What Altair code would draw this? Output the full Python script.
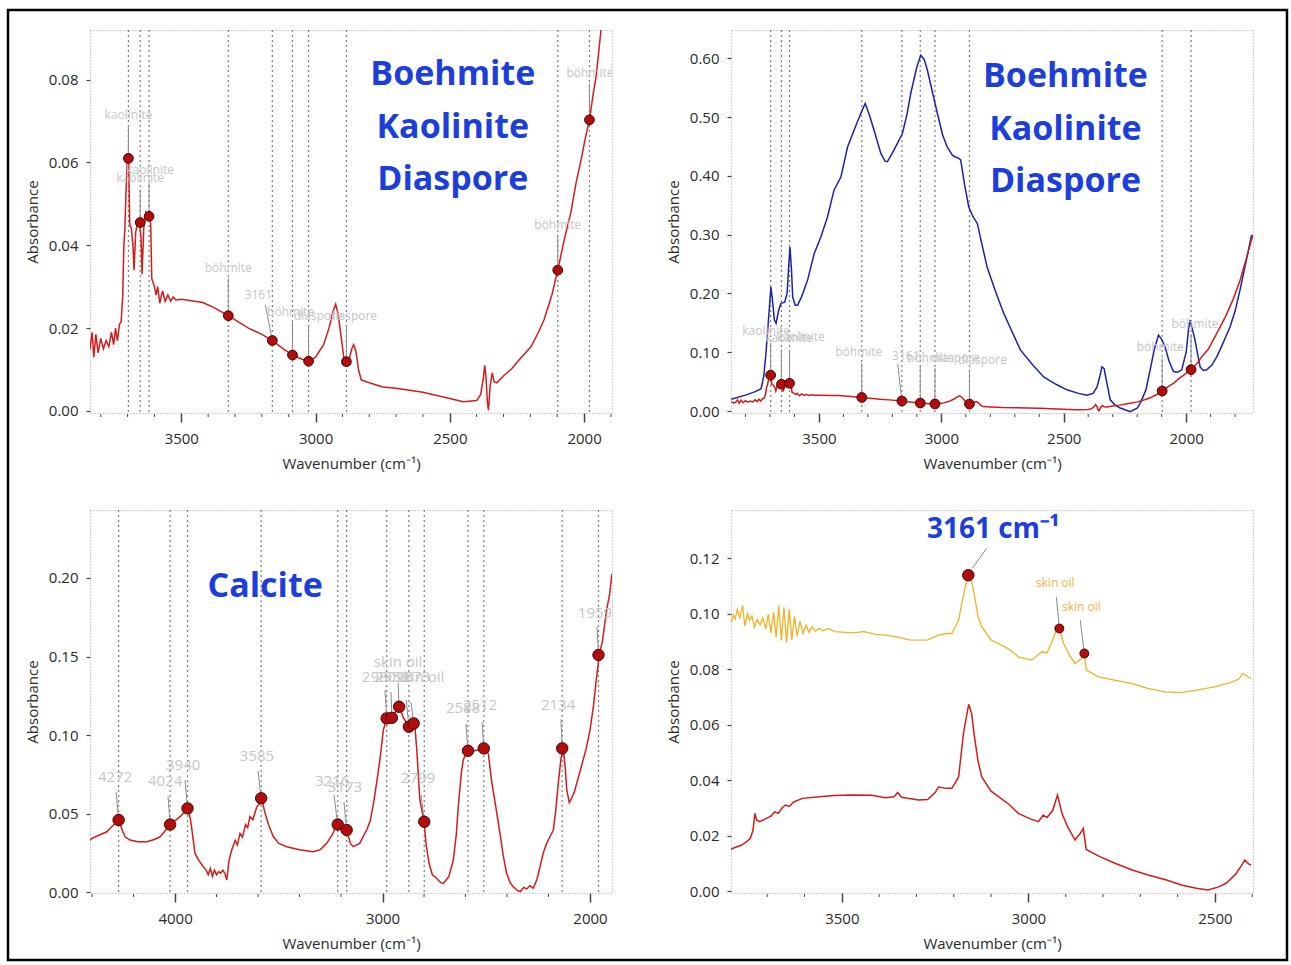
import altair as alt
import pandas as pd

FONT = "Open Sans"

# ---------------- spectra: (wavenumber cm-1, absorbance) ----------------
RED = [(3858, 0.0160), (3848, 0.0135), (3840, 0.0150), (3832, 0.0190), (3826, 0.0130), (3818, 0.0185),
       (3810, 0.0140), (3800, 0.0175), (3790, 0.0150), (3780, 0.0170), (3770, 0.0155), (3760, 0.0190),
       (3752, 0.0160), (3745, 0.0200), (3738, 0.0170), (3730, 0.0210), (3724, 0.0215), (3718, 0.0280),
       (3714, 0.0400), (3710, 0.0440), (3706, 0.0530), (3700, 0.0620), (3696, 0.0600), (3692, 0.0450),
       (3686, 0.0440), (3680, 0.0400), (3676, 0.0340), (3670, 0.0430), (3662, 0.0460), (3656, 0.0455),
       (3650, 0.0420), (3646, 0.0330), (3640, 0.0440), (3632, 0.0480), (3624, 0.0470), (3618, 0.0480),
       (3614, 0.0450), (3610, 0.0320), (3600, 0.0300), (3594, 0.0280), (3588, 0.0300), (3580, 0.0260),
       (3570, 0.0290), (3560, 0.0265), (3550, 0.0280), (3540, 0.0265), (3530, 0.0275), (3520, 0.0268),
       (3500, 0.0270), (3450, 0.0265), (3420, 0.0262), (3380, 0.0250), (3325, 0.0230), (3250, 0.0200),
       (3200, 0.0185), (3161, 0.0170), (3120, 0.0150), (3086, 0.0135), (3050, 0.0125), (3026, 0.0120),
       (3000, 0.0130), (2970, 0.0160), (2950, 0.0200), (2935, 0.0240), (2925, 0.0258), (2915, 0.0230),
       (2905, 0.0180), (2895, 0.0130), (2885, 0.0119), (2875, 0.0125), (2865, 0.0150), (2858, 0.0160),
       (2850, 0.0145), (2840, 0.0100), (2830, 0.0075), (2800, 0.0068), (2750, 0.0058), (2700, 0.0055),
       (2600, 0.0045), (2500, 0.0030), (2450, 0.0022), (2400, 0.0025), (2385, 0.0040), (2375, 0.0080),
       (2370, 0.0110), (2365, 0.0080), (2360, 0.0020), (2356, 0.0002), (2350, 0.0060), (2342, 0.0092),
       (2335, 0.0070), (2325, 0.0068), (2300, 0.0085), (2272, 0.0100), (2240, 0.0125), (2198, 0.0155),
       (2170, 0.0190), (2149, 0.0220), (2120, 0.0280), (2098, 0.0340), (2075, 0.0410), (2049, 0.0480),
       (2030, 0.0550), (2011, 0.0607), (1995, 0.0660), (1980, 0.0703), (1965, 0.0770), (1955, 0.0808),
       (1937, 0.0920), (1910, 0.1050), (1875, 0.1320), (1840, 0.1600), (1809, 0.1890), (1780, 0.2220),
       (1755, 0.2580), (1733, 0.2910), (1727, 0.3000)]

BLUE = [(3858, 0.020), (3800, 0.027), (3760, 0.033), (3736, 0.038), (3725, 0.060), (3716, 0.099),
        (3705, 0.160), (3696, 0.211), (3690, 0.190), (3682, 0.155), (3675, 0.149), (3665, 0.170),
        (3655, 0.183), (3640, 0.185), (3630, 0.200), (3622, 0.255), (3618, 0.279), (3612, 0.240),
        (3607, 0.194), (3597, 0.180), (3587, 0.180), (3570, 0.195), (3546, 0.223), (3519, 0.268),
        (3492, 0.296), (3465, 0.330), (3438, 0.376), (3410, 0.398), (3383, 0.449), (3356, 0.478),
        (3330, 0.505), (3311, 0.523), (3295, 0.505), (3275, 0.478), (3247, 0.438), (3230, 0.425),
        (3220, 0.424), (3193, 0.444), (3159, 0.472), (3140, 0.505), (3125, 0.540), (3100, 0.585),
        (3084, 0.605), (3070, 0.598), (3057, 0.580), (3035, 0.540), (3016, 0.506), (2995, 0.470),
        (2976, 0.449), (2955, 0.435), (2942, 0.432), (2930, 0.430), (2921, 0.427), (2905, 0.385),
        (2888, 0.347), (2870, 0.330), (2853, 0.319), (2835, 0.285), (2813, 0.245), (2780, 0.205),
        (2745, 0.166), (2710, 0.134), (2677, 0.104), (2630, 0.080), (2582, 0.058), (2530, 0.045),
        (2487, 0.036), (2440, 0.030), (2405, 0.027), (2380, 0.030), (2364, 0.041), (2352, 0.060),
        (2344, 0.075), (2335, 0.072), (2325, 0.050), (2310, 0.019), (2290, 0.010), (2269, 0.005),
        (2229, -0.001), (2200, 0.005), (2188, 0.013), (2165, 0.035), (2147, 0.070), (2130, 0.105),
        (2113, 0.129), (2100, 0.122), (2086, 0.109), (2070, 0.085), (2052, 0.067), (2035, 0.066),
        (2018, 0.070), (2000, 0.100), (1990, 0.140), (1984, 0.155), (1975, 0.140), (1964, 0.121),
        (1950, 0.090), (1943, 0.075), (1930, 0.069), (1916, 0.070), (1895, 0.078), (1875, 0.092),
        (1850, 0.115), (1821, 0.143), (1800, 0.170), (1780, 0.206), (1755, 0.255), (1733, 0.299)]

CAL = [(4410, 0.0330), (4401, 0.0342), (4370, 0.0360), (4329, 0.0384), (4297, 0.0427), (4270, 0.0459),
       (4255, 0.0395), (4240, 0.0350), (4217, 0.0331), (4180, 0.0320), (4136, 0.0320), (4100, 0.0335),
       (4072, 0.0352), (4045, 0.0395), (4024, 0.0438), (3995, 0.0460), (3976, 0.0480), (3955, 0.0510),
       (3940, 0.0533), (3925, 0.0459), (3904, 0.0246), (3885, 0.0200), (3864, 0.0161), (3850, 0.0140),
       (3840, 0.0110), (3830, 0.0150), (3820, 0.0100), (3810, 0.0140), (3800, 0.0110), (3790, 0.0130),
       (3780, 0.0120), (3770, 0.0140), (3760, 0.0120), (3751, 0.0076), (3740, 0.0200), (3727, 0.0268),
       (3710, 0.0330), (3700, 0.0300), (3687, 0.0374), (3675, 0.0350), (3660, 0.0430), (3650, 0.0410),
       (3639, 0.0480), (3625, 0.0460), (3606, 0.0543), (3595, 0.0560), (3582, 0.0597), (3570, 0.0522),
       (3550, 0.0430), (3526, 0.0352), (3500, 0.0310), (3462, 0.0289), (3400, 0.0270), (3334, 0.0257),
       (3300, 0.0270), (3269, 0.0310), (3240, 0.0370), (3221, 0.0438), (3205, 0.0420), (3190, 0.0420),
       (3173, 0.0395), (3155, 0.0310), (3141, 0.0289), (3110, 0.0310), (3075, 0.0400), (3060, 0.0450),
       (3044, 0.0560), (3028, 0.0700), (3012, 0.0850), (2996, 0.1032), (2980, 0.1106), (2965, 0.1110),
       (2950, 0.1110), (2935, 0.1150), (2918, 0.1180), (2900, 0.1110), (2885, 0.1080), (2876, 0.1053),
       (2860, 0.1060), (2845, 0.1074), (2835, 0.0905), (2820, 0.0586), (2800, 0.0448), (2790, 0.0300),
       (2775, 0.0180), (2760, 0.0110), (2747, 0.0097), (2720, 0.0060), (2707, 0.0055), (2680, 0.0100),
       (2659, 0.0204), (2645, 0.0360), (2635, 0.0543), (2620, 0.0760), (2611, 0.0841), (2595, 0.0890),
       (2582, 0.0900), (2560, 0.0900), (2535, 0.0905), (2509, 0.0915), (2490, 0.0880), (2475, 0.0713),
       (2455, 0.0550), (2434, 0.0374), (2418, 0.0230), (2402, 0.0119), (2385, 0.0060), (2370, 0.0034),
       (2350, 0.0010), (2337, 0.0002), (2320, 0.0030), (2305, 0.0020), (2290, 0.0040), (2273, 0.0025),
       (2256, 0.0080), (2241, 0.0161), (2225, 0.0250), (2209, 0.0310), (2190, 0.0360), (2177, 0.0395),
       (2165, 0.0520), (2153, 0.0692), (2140, 0.0850), (2129, 0.0915), (2120, 0.0800), (2112, 0.0650),
       (2100, 0.0570), (2088, 0.0600), (2075, 0.0640), (2050, 0.0760), (2020, 0.0905), (2000, 0.1030),
       (1984, 0.1180), (1970, 0.1350), (1955, 0.1510), (1940, 0.1600), (1920, 0.1796), (1905, 0.1900),
       (1896, 0.2008), (1892, 0.2030)]

OIL = [(3797, 0.0965), (3791, 0.0995), (3786, 0.0980), (3780, 0.1015), (3773, 0.0985), (3766, 0.1030),
       (3760, 0.0955), (3753, 0.1000), (3747, 0.0975), (3741, 0.0992), (3734, 0.0950), (3727, 0.0978),
       (3719, 0.0958), (3712, 0.0985), (3704, 0.0945), (3697, 0.0998), (3690, 0.0930), (3683, 0.1005),
       (3676, 0.0915), (3669, 0.1030), (3662, 0.0902), (3655, 0.1022), (3648, 0.0895), (3641, 0.1015),
       (3634, 0.0905), (3627, 0.0990), (3620, 0.0918), (3612, 0.0972), (3604, 0.0928), (3596, 0.0958),
       (3588, 0.0932), (3580, 0.0952), (3571, 0.0936), (3562, 0.0946), (3550, 0.0938), (3535, 0.0946),
       (3520, 0.0935), (3500, 0.0933), (3470, 0.0930), (3440, 0.0935), (3410, 0.0925), (3383, 0.0922),
       (3350, 0.0915), (3320, 0.0905), (3294, 0.0904), (3270, 0.0905), (3241, 0.0922), (3220, 0.0928),
       (3205, 0.0928), (3187, 0.0976), (3175, 0.1060), (3169, 0.1096), (3161, 0.1138), (3155, 0.1130),
       (3147, 0.1084), (3135, 0.0990), (3125, 0.0952), (3100, 0.0905), (3080, 0.0892), (3050, 0.0870),
       (3027, 0.0844), (3000, 0.0835), (2991, 0.0832), (2975, 0.0850), (2964, 0.0862), (2950, 0.0858),
       (2935, 0.0905), (2925, 0.0940), (2917, 0.0946), (2905, 0.0890), (2890, 0.0850), (2875, 0.0820),
       (2860, 0.0835), (2850, 0.0856), (2845, 0.0796), (2830, 0.0785), (2813, 0.0772), (2770, 0.0760),
       (2724, 0.0748), (2680, 0.0730), (2634, 0.0718), (2590, 0.0715), (2545, 0.0725), (2501, 0.0736),
       (2460, 0.0750), (2435, 0.0765), (2425, 0.0784), (2415, 0.0775), (2403, 0.0766)]

RAW = [(3797, 0.0150), (3790, 0.0155), (3770, 0.0165), (3755, 0.0178), (3745, 0.0190), (3738, 0.0220),
       (3733, 0.0280), (3728, 0.0255), (3720, 0.0250), (3705, 0.0260), (3690, 0.0270), (3680, 0.0285),
       (3670, 0.0280), (3660, 0.0300), (3651, 0.0310), (3640, 0.0305), (3630, 0.0320), (3606, 0.0334),
       (3561, 0.0340), (3520, 0.0344), (3472, 0.0346), (3420, 0.0345), (3383, 0.0336), (3360, 0.0340),
       (3350, 0.0355), (3340, 0.0338), (3294, 0.0328), (3270, 0.0330), (3250, 0.0355), (3241, 0.0375),
       (3220, 0.0370), (3205, 0.0370), (3187, 0.0411), (3174, 0.0568), (3160, 0.0673), (3152, 0.0640),
       (3145, 0.0560), (3135, 0.0470), (3125, 0.0411), (3100, 0.0360), (3080, 0.0340), (3050, 0.0310),
       (3027, 0.0280), (2995, 0.0260), (2973, 0.0250), (2960, 0.0274), (2950, 0.0265), (2935, 0.0290),
       (2922, 0.0346), (2910, 0.0280), (2895, 0.0232), (2875, 0.0184), (2860, 0.0210), (2853, 0.0226),
       (2845, 0.0150), (2810, 0.0125), (2768, 0.0100), (2720, 0.0075), (2679, 0.0058), (2630, 0.0040),
       (2590, 0.0022), (2550, 0.0010), (2519, 0.0004), (2490, 0.0015), (2470, 0.0028), (2445, 0.0060),
       (2430, 0.0090), (2420, 0.0112), (2410, 0.0098), (2403, 0.0094)]

# ---------------- peak picks ----------------
PK12_WN = [3697, 3653, 3620, 3325, 3161, 3086, 3026, 2885, 2098, 1980]
PK12_AB = [0.0610, 0.0455, 0.0470, 0.0230, 0.0170, 0.0135, 0.0120, 0.0119, 0.0340, 0.0703]
PK12_TXT = ["kaolinite", "kaolinite", "kaolinite", "böhmite", "3161", "böhmite",
            "diaspore", "diaspore", "böhmite", "böhmite"]
P1_LBL_WN = [3697, 3653, 3616, 3325, 3213, 3093, 2989, 2862, 2098, 1978]
P1_LBL_AB = [0.0715, 0.0563, 0.0583, 0.0346, 0.0280, 0.0239, 0.0230, 0.0230, 0.0450, 0.0817]
P1_TOP_WN = [3697, 3653, 3620, 3325, 3187, 3086, 3026, 2885, 2098, 1980]
P1_TOP_AB = [0.0689, 0.0534, 0.0551, 0.0321, 0.0256, 0.0215, 0.0205, 0.0205, 0.0420, 0.0790]
P2_LBL_WN = [3716, 3622, 3573, 3337, 3145, 3044, 2942, 2832, 2106, 1964]
P2_LBL_AB = [0.136, 0.124, 0.126, 0.100, 0.0935, 0.090, 0.090, 0.0867, 0.1088, 0.148]
P2_TOP_WN = [3697, 3653, 3620, 3325, 3178, 3086, 3026, 2885, 2098, 1980]
P2_TOP_AB = [0.1156, 0.1037, 0.1037, 0.0816, 0.080, 0.0748, 0.0731, 0.0663, 0.090, 0.131]

PK3_WN = [4272, 4024, 3940, 3585, 3216, 3173, 2980, 2955, 2920, 2873, 2850, 2799, 2588, 2512, 2134, 1959]
PK3_AB = [0.0459, 0.0430, 0.0533, 0.0597, 0.0430, 0.0395, 0.1106, 0.1110, 0.1180, 0.1053, 0.1074,
          0.0448, 0.0900, 0.0915, 0.0915, 0.1510]
PK3_TXT = ["4272", "4024", "3940", "3585", "3216", "3173", "2980", "2958", "skin oil", "2873",
           "skin oil", "2799", "2588", "2512", "2134", "1959"]
P3_LBL_WN = [4289, 4048, 3961, 3605, 3243, 3181, 3017, 2954, 2925, 2853, 2819, 2829, 2612, 2530, 2154, 1976]
P3_LBL_AB = [0.0733, 0.0707, 0.0809, 0.0866, 0.0707, 0.0669, 0.137, 0.137, 0.1465, 0.137, 0.137,
             0.0726, 0.117, 0.119, 0.119, 0.178]
P3_TOP_WN = [4284, 4034, 3952, 3600, 3234, 3186, 2988, 2959, 2925, 2886, 2863, 2814, 2598, 2520, 2140, 1966]
P3_TOP_AB = [0.0637, 0.0611, 0.0713, 0.0771, 0.0618, 0.0573, 0.1287, 0.1274, 0.1331, 0.1223, 0.121,
             0.0618, 0.107, 0.1083, 0.110, 0.169]
P3_VLINES = [4272, 4024, 3940, 3585, 3216, 3173, 2980, 2873, 2799, 2588, 2512, 2134, 1959]

PK4_WN = [3161, 2917, 2850]
PK4_AB = [0.1138, 0.0946, 0.0856]
P4_TXT = ["skin oil", "skin oil"]
P4_LBL_WN = [2928, 2858]
P4_LBL_AB = [0.111, 0.1023]
P4_TOP_WN = [3112, 2925, 2861]
P4_TOP_AB = [0.1235, 0.106, 0.0976]
P4_BOT_WN = [3150, 2917, 2850]
P4_BOT_AB = [0.1163, 0.0946, 0.0856]
P4_BIG = "3161 cm⁻¹"
P4_BIG_WN, P4_BIG_AB = 3094, 0.130

# ---------------- big captions ----------------
CAP12 = ["Boehmite", "Kaolinite", "Diaspore"]
CAP1_WN, CAP1_AB = 2489, [0.0812, 0.0684, 0.0558]
CAP2_WN, CAP2_AB = 2493, [0.568, 0.478, 0.389]
CAP3, CAP3_WN, CAP3_AB = "Calcite", 3566, 0.194

# ---------------- axes ----------------
P1_XDOM, P1_YDOM = [3840, 1896], [-0.0005, 0.0920]
P2_XDOM, P2_YDOM = [3859, 1727], [-0.0034, 0.648]
P3_XDOM, P3_YDOM = [4410, 1894], [-0.0006, 0.2433]
P4_XDOM, P4_YDOM = [3797, 2398], [-0.0007, 0.1373]
P12_XMAJ = [3500, 3000, 2500, 2000]
P1_XMIN = [w for w in range(3800, 1899, -100) if w % 500]
P2_XMIN = [w for w in range(3800, 1799, -100) if w % 500]
P3_XMAJ = [4000, 3000, 2000]
P3_XMIN = [w for w in range(4400, 1999, -200) if w % 1000]
P4_XMAJ = [3500, 3000, 2500]
P4_XMIN = [w for w in range(3700, 2399, -100) if w % 500]
P1_YMAJ = [0.00, 0.02, 0.04, 0.06, 0.08]
P2_YMAJ = [0.0, 0.1, 0.2, 0.3, 0.4, 0.5, 0.6]
P3_YMAJ = [0.00, 0.05, 0.10, 0.15, 0.20]
P4_YMAJ = [0.00, 0.02, 0.04, 0.06, 0.08, 0.10, 0.12]

W, H = 522, 383
RED_C, BLUE_C, OIL_C = "#d21c1c", "#1c22a8", "#f0b224"
CAP_C = "#1c3fdc"
LBL_C = "#c6c6c6"
LEAD_C = "#8a8a8a"


def xe(dom, major, field="wn"):
    return alt.X(f"{field}:Q", scale=alt.Scale(domain=dom, nice=False, zero=False),
                 axis=alt.Axis(values=major, format="d", title="Wavenumber (cm⁻¹)"))


def ye(dom, major, field="ab"):
    return alt.Y(f"{field}:Q", scale=alt.Scale(domain=dom, nice=False, zero=False),
                 axis=alt.Axis(values=major, format=".2f", title="Absorbance"))


def df_pairs(pairs):
    return pd.DataFrame(pairs, columns=["wn", "ab"])


def line(pairs, color, xd, xm, yd, ym, width=1.5):
    return alt.Chart(df_pairs(pairs)).mark_line(color=color, strokeWidth=width, clip=True).encode(
        x=xe(xd, xm), y=ye(yd, ym))


def vlines(wns, xd, xm):
    return alt.Chart(pd.DataFrame({"wn": wns})).mark_rule(
        color="#7c7c7c", strokeDash=[2, 3], strokeWidth=1.2).encode(x=xe(xd, xm))


def minor(wns, xd, xm):
    return alt.Chart(pd.DataFrame({"wn": wns})).mark_rule(color="#444", strokeWidth=1).encode(
        x=xe(xd, xm), y=alt.value(H + 1), y2=alt.value(H + 4))


def leaders(twn, tab, bwn, bab, xd, xm, yd, ym):
    d = pd.DataFrame({"wn": twn, "ab": tab, "wn2": bwn, "ab2": bab})
    return alt.Chart(d).mark_rule(color=LEAD_C, strokeWidth=1).encode(
        x=xe(xd, xm), x2="wn2:Q", y=ye(yd, ym), y2="ab2:Q")


def markers(wns, abs_, xd, xm, yd, ym, size=95):
    d = pd.DataFrame({"wn": wns, "ab": abs_})
    return alt.Chart(d).mark_circle(size=size, color="#b20d0d", opacity=1, stroke="#4a0000",
                                    strokeWidth=1).encode(x=xe(xd, xm), y=ye(yd, ym))


def labels(txt, wns, abs_, xd, xm, yd, ym, size=12, color=LBL_C):
    d = pd.DataFrame({"wn": wns, "ab": abs_, "t": txt})
    return alt.Chart(d).mark_text(font=FONT, fontSize=size, color=color, baseline="middle",
                                  clip=True).encode(x=xe(xd, xm), y=ye(yd, ym), text="t:N")


def caption(txt, wns, abs_, xd, xm, yd, ym, size=34):
    d = pd.DataFrame({"wn": wns, "ab": abs_, "t": txt})
    return alt.Chart(d).mark_text(font=FONT, fontSize=size, fontWeight="bold", color=CAP_C,
                                  baseline="middle").encode(x=xe(xd, xm), y=ye(yd, ym), text="t:N")


# ---------------- panel 1 ----------------
a1 = (P1_XDOM, P12_XMAJ)
b1 = (P1_YDOM, P1_YMAJ)
border = alt.Chart(pd.DataFrame({"k": [0]})).mark_rect(
    fillOpacity=0, stroke="black", strokeWidth=2.5).encode(
    x=alt.value(-82), x2=alt.value(1197), y=alt.value(-20), y2=alt.value(930))
p1 = alt.layer(
    border,
    vlines(PK12_WN, *a1),
    minor(P1_XMIN, *a1),
    line(RED, RED_C, *a1, *b1),
    leaders(P1_TOP_WN, P1_TOP_AB, PK12_WN, PK12_AB, *a1, *b1),
    markers(PK12_WN, PK12_AB, *a1, *b1),
    labels(PK12_TXT, P1_LBL_WN, P1_LBL_AB, *a1, *b1),
    caption(CAP12, [CAP1_WN] * 3, CAP1_AB, *a1, *b1),
).properties(width=W, height=H)

# ---------------- panel 2 ----------------
a2 = (P2_XDOM, P12_XMAJ)
b2 = (P2_YDOM, P2_YMAJ)
p2 = alt.layer(
    vlines(PK12_WN, *a2),
    minor(P2_XMIN, *a2),
    line(BLUE, BLUE_C, *a2, *b2),
    line(RED, RED_C, *a2, *b2),
    leaders(P2_TOP_WN, P2_TOP_AB, PK12_WN, PK12_AB, *a2, *b2),
    markers(PK12_WN, PK12_AB, *a2, *b2),
    labels(PK12_TXT, P2_LBL_WN, P2_LBL_AB, *a2, *b2),
    caption(CAP12, [CAP2_WN] * 3, CAP2_AB, *a2, *b2),
).properties(width=W, height=H)

# ---------------- panel 3 ----------------
a3 = (P3_XDOM, P3_XMAJ)
b3 = (P3_YDOM, P3_YMAJ)
p3 = alt.layer(
    vlines(P3_VLINES, *a3),
    minor(P3_XMIN, *a3),
    line(CAL, RED_C, *a3, *b3),
    leaders(P3_TOP_WN, P3_TOP_AB, PK3_WN, PK3_AB, *a3, *b3),
    markers(PK3_WN, PK3_AB, *a3, *b3, size=130),
    labels(PK3_TXT, P3_LBL_WN, P3_LBL_AB, *a3, *b3, size=15),
    caption([CAP3], [CAP3_WN], [CAP3_AB], *a3, *b3),
).properties(width=W, height=H)

# ---------------- panel 4 ----------------
a4 = (P4_XDOM, P4_XMAJ)
b4 = (P4_YDOM, P4_YMAJ)
p4 = alt.layer(
    minor(P4_XMIN, *a4),
    line(OIL, OIL_C, *a4, *b4, width=1.3),
    line(RAW, RED_C, *a4, *b4),
    leaders(P4_TOP_WN, P4_TOP_AB, P4_BOT_WN, P4_BOT_AB, *a4, *b4),
    markers(PK4_WN[:1], PK4_AB[:1], *a4, *b4, size=130),
    markers(PK4_WN[1:], PK4_AB[1:], *a4, *b4, size=80),
    labels(P4_TXT, P4_LBL_WN, P4_LBL_AB, *a4, *b4, size=12, color="#f2b440"),
    caption([P4_BIG], [P4_BIG_WN], [P4_BIG_AB], *a4, *b4, size=28),
).properties(width=W, height=H)

chart = alt.concat(
    p1, p2, p3, p4, columns=2, spacing={"row": 97, "column": 119}, bounds="flush"
).properties(
    padding={"left": 6, "top": 8, "right": 0, "bottom": 0}
).configure_view(
    stroke="#a8a8a8", strokeDash=[1, 2], strokeWidth=1
).configure_axis(
    domain=False, grid=False, labelFont=FONT, labelFontSize=15, labelColor="#2a2a2a",
    titleFont=FONT, titleFontSize=15, titleFontWeight="normal", titleColor="#2a2a2a",
    tickColor="#444"
).configure_axisX(
    tickSize=9, tickWidth=1.5, labelPadding=9, titlePadding=10
).configure_axisY(
    tickSize=4, tickWidth=1.2, labelPadding=8, titlePadding=8
)

chart.save("out.html", embed_options={"renderer": "svg", "actions": False})
